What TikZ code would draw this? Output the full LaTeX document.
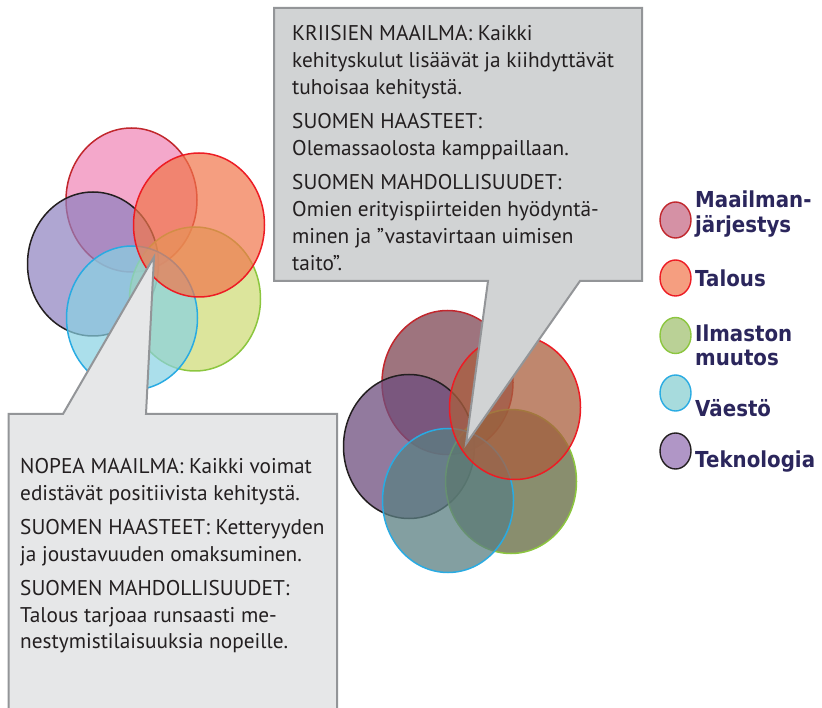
\documentclass[tikz,border=0pt]{standalone}
\usepackage{fontspec}
\setmainfont{PT Sans}
\newfontfamily\legfont{DejaVu Sans}[FakeStretch=0.9]
\usetikzlibrary{shapes.geometric}
\definecolor{tcol}{RGB}{35,31,32}
\definecolor{legc}{RGB}{43,38,92}
\definecolor{cgray}{RGB}{147,149,152}
\definecolor{topfill}{RGB}{209,211,212}
\definecolor{leftfill}{RGB}{230,231,232}
% strokes
\definecolor{sPink}{RGB}{193,39,45}
\definecolor{sOrange}{RGB}{237,28,36}
\definecolor{sGreen}{RGB}{140,198,63}
\definecolor{sBlue}{RGB}{41,171,226}
\definecolor{sPurple}{RGB}{35,31,32}
% left cluster fills (opacity 0.7)
\definecolor{lPink}{RGB}{239,131,181}
\definecolor{lOrange}{RGB}{241,117,74}
\definecolor{lGreen}{RGB}{205,218,114}
\definecolor{lBlue}{RGB}{136,209,226}
\definecolor{lPurple}{RGB}{141,128,191}
% right cluster fills (opacity 0.75)
\definecolor{rPink}{RGB}{126,70,83}
\definecolor{rOrange}{RGB}{170,95,62}
\definecolor{rGreen}{RGB}{98,104,62}
\definecolor{rBlue}{RGB}{90,127,130}
\definecolor{rPurple}{RGB}{110,78,126}
% legend fills
\definecolor{gPink}{RGB}{213,145,165}
\definecolor{gOrange}{RGB}{245,158,128}
\definecolor{gGreen}{RGB}{186,209,150}
\definecolor{gBlue}{RGB}{167,219,221}
\definecolor{gPurple}{RGB}{176,150,198}
\begin{document}
\begin{tikzpicture}[x=1pt,y=-1pt,
  bub/.style={ellipse, inner sep=0pt, outer sep=0pt, minimum width=131pt, minimum height=144pt, line width=1.5pt},
  lbub/.style={bub, fill opacity=0.7},
  rbub/.style={bub, fill opacity=0.75},
  txt/.style={anchor=base west, inner sep=0pt, font=\fontsize{21.3}{25}\selectfont, text=tcol},
  leg/.style={anchor=base west, inner sep=0pt, font=\legfont\bfseries\fontsize{22}{26}\selectfont, text=legc},
  legdot/.style={ellipse, inner sep=0pt, minimum width=31pt, minimum height=36pt, line width=1.4pt},
  callout/.style={draw=cgray, line width=2pt, line join=miter}]
\useasboundingbox (0,0) rectangle (822,708);

% ---------- left cluster ----------
\node[lbub, draw=sPink,   fill=lPink]   (lpink)   at (131.5,200) {};
\node[lbub, draw=sPurple, fill=lPurple] (lpurple) at (93,264) {};
\node[lbub, draw=sGreen,  fill=lGreen]  (lgreen)  at (195,299) {};
\node[lbub, draw=sBlue,   fill=lBlue]   (lblue)   at (132,318) {};
\node[lbub, draw=sOrange, fill=lOrange] (lorange) at (199,225) {};

% ---------- right cluster ----------
\node[rbub, draw=sPink,   fill=rPink]   (rpink)   at (447.5,382.5) {};
\node[rbub, draw=sPurple, fill=rPurple] (rpurple) at (409,446.5) {};
\node[rbub, draw=sGreen,  fill=rGreen]  (rgreen)  at (511,481.5) {};
\node[rbub, draw=sBlue,   fill=rBlue]   (rblue)   at (448,500.5) {};
\node[rbub, draw=sOrange, fill=rOrange] (rorange) at (515,407.5) {};

% ---------- callouts ----------
\coordinate (ttip) at (466,444);
\coordinate (ltip) at (154,257);
\draw[callout, fill=topfill] (274,8) -- (642,8) -- (642,281) -- (580,281) -- (ttip) -- (488,281) -- (274,281) -- cycle;
\draw[callout, fill=leftfill] (8.5,414) -- (63,414) -- (ltip) -- (146,414) -- (337,414) -- (337,712) -- (8.5,712) -- cycle;

% ---------- top callout text ----------
\node[txt] (k1) at (292,41)  {KRIISIEN MAAILMA: Kaikki};
\node[txt] (k2) at (292,68)  {kehityskulut lisäävät ja kiihdyttävät};
\node[txt] (k3) at (292,95)  {tuhoisaa kehitystä.};
\node[txt] (k4) at (292,129) {SUOMEN HAASTEET:};
\node[txt] (k5) at (292,156) {Olemassaolosta kamppaillaan.};
\node[txt] (k6) at (292,190) {SUOMEN MAHDOLLISUUDET:};
\node[txt] (k7) at (292,217) {Omien erityispiirteiden hyödyntä-};
\node[txt] (k8) at (292,244) {minen ja ”vastavirtaan uimisen};
\node[txt] (k9) at (292,271) {taito”.};

% ---------- left callout text ----------
\node[txt] (n1) at (20,473) {NOPEA MAAILMA: Kaikki voimat};
\node[txt] (n2) at (20,500) {edistävät positiivista kehitystä.};
\node[txt] (n3) at (20,534) {SUOMEN HAASTEET: Ketteryyden};
\node[txt] (n4) at (20,561) {ja joustavuuden omaksuminen.};
\node[txt] (n5) at (20,595) {SUOMEN MAHDOLLISUUDET:};
\node[txt] (n6) at (20,622) {Talous tarjoaa runsaasti me-};
\node[txt] (n7) at (20,648) {nestymistilaisuuksia nopeille.};

% ---------- legend ----------
\node[legdot, draw=sPink,   fill=gPink]   (g1) at (675.5,220) {};
\node[legdot, draw=sOrange, fill=gOrange] (g2) at (675.5,278) {};
\node[legdot, draw=sGreen,  fill=gGreen]  (g3) at (675.5,335.5) {};
\node[legdot, draw=sBlue,   fill=gBlue]   (g4) at (675.5,393) {};
\node[legdot, draw=sPurple, fill=gPurple] (g5) at (675.5,451) {};

\node[leg] (m1a) at (695,208) {Maailman-};
\node[leg] (m1b) at (695,233) {järjestys};
\node[leg] (m2)  at (695,287) {Talous};
\node[leg] (m3a) at (695,342) {Ilmaston};
\node[leg] (m3b) at (695,366) {muutos};
\node[leg] (m4)  at (695,417) {Väestö};
\node[leg] (m5)  at (695,467) {Teknologia};
\end{tikzpicture}
\end{document}
